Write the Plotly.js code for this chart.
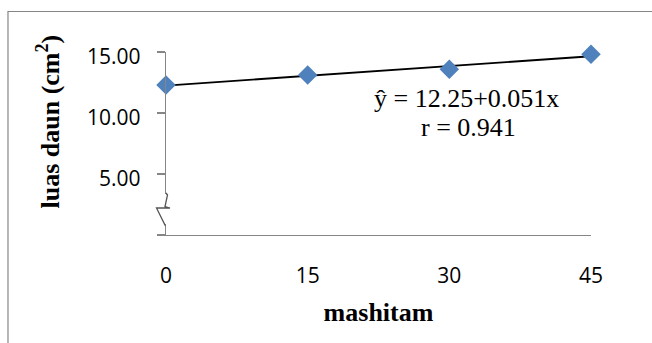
<!DOCTYPE html>
<html>
<head>
<meta charset="utf-8">
<script src="https://cdn.plot.ly/plotly-3.0.1.min.js"></script>
<style>html,body{margin:0;padding:0;background:#fff;}#chart{width:652px;height:343px;}</style>
</head>
<body>
<div id="chart"></div>
<script>
// Data
const doses = [0, 15, 30, 45];                 // x: mashitam
const leafArea = [12.30, 13.11, 13.58, 14.81]; // y: luas daun (cm²)
const xTickVals = [0, 15, 30, 45];
const xTickText = ['0', '15', '30', '45'];
const yTickVals = [0, 5, 10, 15];
const yTickText = ['', '5.00', '10.00', '15.00'];
const equationText = 'ŷ = 12.25+0.051x';
const rText = 'r = 0.941';

// Least-squares trendline from the data
const n = doses.length;
const mx = doses.reduce((a, b) => a + b, 0) / n;
const my = leafArea.reduce((a, b) => a + b, 0) / n;
let sxy = 0, sxx = 0;
for (let i = 0; i < n; i++) { sxy += (doses[i] - mx) * (leafArea[i] - my); sxx += (doses[i] - mx) ** 2; }
const slope = sxy / sxx, intercept = my - slope * mx;
const lineX = [Math.min(...doses), Math.max(...doses)];
const lineY = lineX.map(x => intercept + slope * x);

const axisGray = '#868686';
const serif = 'Liberation Serif, Times New Roman, serif';
const sans = 'Open Sans, sans-serif';

const traces = [
  { x: lineX, y: lineY, type: 'scatter', mode: 'lines', line: { color: '#000', width: 1.8 }, hoverinfo: 'skip', cliponaxis: false },
  { x: doses, y: leafArea, type: 'scatter', mode: 'markers', marker: { symbol: 'diamond', size: 15, color: '#4F81BD', line: { width: 0 } }, cliponaxis: false }
];

// axis-break decoration, given in paper units (plot area 425 x 183 px)
const zig = [[0, 42], [1.5, 40], [-1, 28.5], [4, 27], [-9.5, 27], [-1, 10], [0, 10]];
const zigPath = zig.map((p, i) => (i ? 'L ' : 'M ') + (p[0] / 425).toFixed(5) + ',' + (p[1] / 183).toFixed(5)).join(' ');

const layout = {
  width: 652, height: 343,
  margin: { l: 166, r: 61, t: 52, b: 108 },
  paper_bgcolor: '#fff', plot_bgcolor: '#fff',
  showlegend: false,
  xaxis: {
    range: [0, 45], tickvals: xTickVals, ticktext: xTickText,
    showline: true, linecolor: axisGray, linewidth: 1.3,
    showgrid: false, zeroline: false, ticks: '',
    ticklabelstandoff: 21,
    tickfont: { family: sans, size: 21, color: '#000' },
    title: { text: '<b>mashitam</b>', standoff: 15, font: { family: serif, size: 26, color: '#000' } }
  },
  yaxis: {
    range: [0, 15], tickvals: yTickVals, ticktext: yTickText,
    showline: true, linecolor: axisGray, linewidth: 1.3,
    showgrid: false, zeroline: false,
    ticks: 'outside', ticklen: 8, tickcolor: axisGray, tickwidth: 1.3,
    ticklabelstandoff: 12, ticklabelshift: 5,
    tickfont: { family: sans, size: 21, color: '#000' }
  },
  annotations: [
    { text: '<b>luas daun (cm<sup>2</sup>)</b>', xref: 'paper', yref: 'paper', x: -0.2753, y: 0.62, textangle: -90, showarrow: false, xanchor: 'center', yanchor: 'middle', font: { family: serif, size: 26, color: '#000' } },
    { text: equationText, xref: 'paper', yref: 'paper', x: 0.708, y: 0.7486, showarrow: false, xanchor: 'center', yanchor: 'middle', font: { family: serif, size: 26, color: '#000' } },
    { text: rText, xref: 'paper', yref: 'paper', x: 0.7106, y: 0.590, showarrow: false, xanchor: 'center', yanchor: 'middle', font: { family: serif, size: 26, color: '#000' } }
  ],
  shapes: [
    // outer chart border (top and left edges visible)
    { type: 'path', xref: 'paper', yref: 'paper', path: 'M -0.3718,-1 L -0.3718,1.2213 L 2,1.2213', line: { color: axisGray, width: 1.2 }, layer: 'above' },
    // axis break: white gap over the y axis line
    { type: 'rect', xref: 'paper', yref: 'paper', x0: -10 / 425, x1: 6 / 425, y0: 10 / 183, y1: 41 / 183, fillcolor: '#fff', line: { width: 0 }, layer: 'above' },
    // axis break zigzag
    { type: 'path', xref: 'paper', yref: 'paper', path: zigPath, line: { color: '#555', width: 1.3 }, layer: 'above' }
  ]
};

Plotly.newPlot('chart', traces, layout, { displayModeBar: false, staticPlot: true });
</script>
</body>
</html>
